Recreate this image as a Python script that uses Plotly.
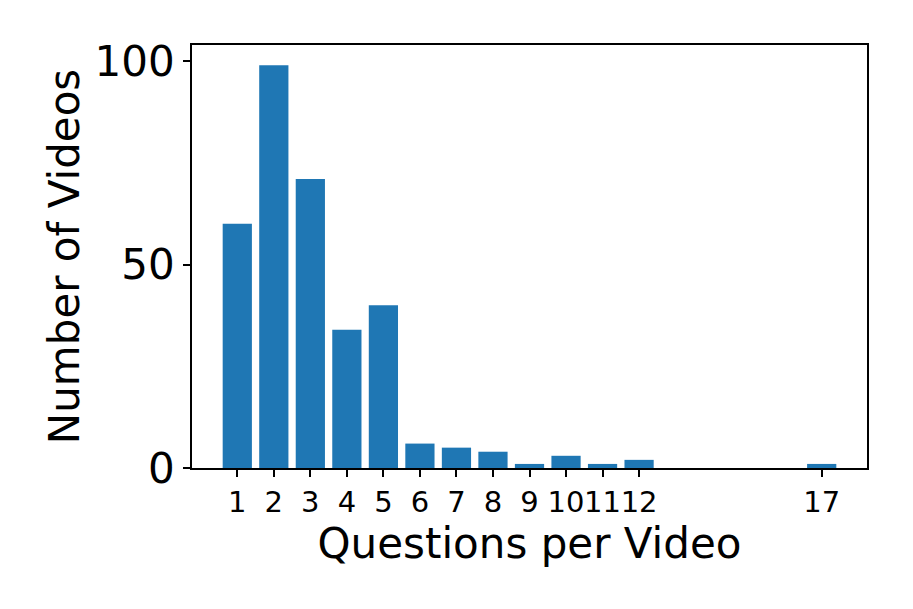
import plotly.graph_objects as go

# Questions per video vs number of videos
questions = [1, 2, 3, 4, 5, 6, 7, 8, 9, 10, 11, 12, 17]
num_videos = [60, 99, 71, 34, 40, 6, 5, 4, 1, 3, 1, 2, 1]
y_ticks = [0, 50, 100]

fig = go.Figure()
fig.add_trace(go.Bar(x=questions, y=num_videos, width=0.8,
                     marker=dict(color='#1f77b4', line=dict(width=0))))

axis_style = dict(showline=True, linecolor='black', linewidth=1.7, mirror=True,
                  ticks='outside', ticklen=7, tickwidth=1.7, tickcolor='black',
                  showgrid=False, zeroline=False)

# page body has an 8px margin, so shift the plot area back
fig.update_layout(
    width=913, height=609,
    margin=dict(l=184, r=54, t=37, b=149),
    plot_bgcolor='white', paper_bgcolor='white',
    font=dict(family='DejaVu Sans', color='black'),
    showlegend=False,
    xaxis=dict(range=[-0.24, 18.24], tickvals=questions,
               ticktext=[str(q) for q in questions],
               tickfont=dict(size=29), tickangle=0,
               title=dict(text='Questions per Video', font=dict(size=42), standoff=3),
               **axis_style),
    yaxis=dict(range=[0, 103.95], tickvals=y_ticks,
               tickfont=dict(size=42),
               title=dict(text='Number of Videos', font=dict(size=42), standoff=2),
               **axis_style),
)

fig.write_html("out.html")
